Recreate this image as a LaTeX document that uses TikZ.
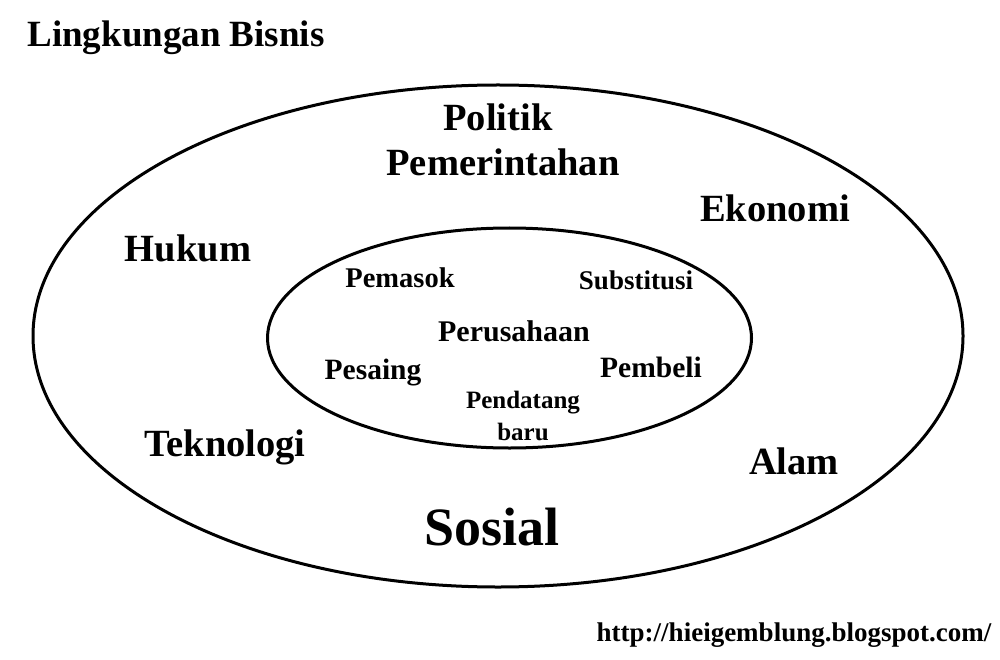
\documentclass[tikz,border=0pt]{standalone}
\usepackage{fontspec}
\setmainfont{Liberation Serif}
\newcommand{\fs}[1]{\fontsize{#1}{#1}\selectfont}
\begin{document}
\begin{tikzpicture}[x=1pt,y=-1pt,
  lbl/.style={font=\bfseries, inner sep=0pt, anchor=base},
  ring/.style={draw=black, line width=3pt}]
\useasboundingbox (0,0) rectangle (1000,660);
\fill[white] (0,0) rectangle (1000,660);
\draw[ring] (498,336) ellipse [x radius=465, y radius=251];
\draw[ring] (509.5,338) ellipse [x radius=242, y radius=110];
\node[lbl, font=\bfseries\fs{37}] (title) at (176,47) {Lingkungan Bisnis};
\node[lbl, font=\bfseries\fs{38.5}] (politik) at (498,131) {Politik};
\node[lbl, font=\bfseries\fs{38.5}] (pemerintahan) at (503,176) {Pemerintahan};
\node[lbl, font=\bfseries\fs{38.5}] (ekonomi) at (775,222) {Ekonomi};
\node[lbl, font=\bfseries\fs{38.5}] (hukum) at (188,261) {Hukum};
\node[lbl, font=\bfseries\fs{38.5}] (teknologi) at (225,456) {Teknologi};
\node[lbl, font=\bfseries\fs{38.5}] (alam) at (794,474) {Alam};
\node[lbl, font=\bfseries\fs{54}] (sosial) at (492,545) {Sosial};
\node[lbl, font=\bfseries\fs{28.5}] (pemasok) at (400,287) {Pemasok};
\node[lbl, font=\bfseries\fs{27}] (substitusi) at (636,289) {Substitusi};
\node[lbl, font=\bfseries\fs{30}] (perusahaan) at (514,341) {Perusahaan};
\node[lbl, font=\bfseries\fs{29.5}] (pesaing) at (373,379) {Pesaing};
\node[lbl, font=\bfseries\fs{29.5}] (pembeli) at (651,377) {Pembeli};
\node[lbl, font=\bfseries\fs{25}] (pendatang) at (523,408) {Pendatang};
\node[lbl, font=\bfseries\fs{25}] (baru) at (523,440) {baru};
\node[lbl, font=\bfseries\fs{27}] (url) at (794,641) {http://hieigemblung.blogspot.com/};
\end{tikzpicture}
\end{document}
